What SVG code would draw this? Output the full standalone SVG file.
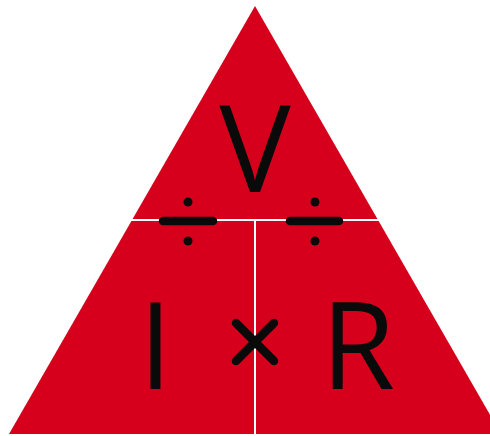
<svg xmlns="http://www.w3.org/2000/svg" width="490" height="436" viewBox="0 0 490 436">
<style>
.tri{fill:#d6001c}
.div{stroke:#fff;stroke-width:2;fill:none}
.sym{stroke:#0a0a0a;stroke-width:8.5;stroke-linecap:round;fill:none}
.dot{fill:#0a0a0a}
.lbl{font-family:"Open Sans","Noto Sans",sans-serif;font-size:120px;font-weight:500;fill:#0a0a0a;text-anchor:middle}
</style>
<rect width="490" height="436" fill="#fff"/>
<g id="triangle"><polygon class="tri" points="255,6 9,434 501,434"/></g>
<g id="connectors">
<line class="div" x1="120" y1="220" x2="390" y2="220"/>
<line class="div" x1="255" y1="220" x2="255" y2="436"/>
</g>
<g id="node-V"><text class="lbl" x="255" y="192">V</text></g>
<g id="node-I"><text class="lbl" x="155.5" y="389">I</text></g>
<g id="node-R"><text class="lbl" x="358" y="389">R</text></g>
<g id="op-div-left">
<line class="sym" x1="163" y1="221" x2="213" y2="221"/>
<circle class="dot" cx="188" cy="202" r="4.5"/>
<circle class="dot" cx="188" cy="241" r="4.5"/>
</g>
<g id="op-div-right">
<line class="sym" x1="290" y1="221" x2="339" y2="221"/>
<circle class="dot" cx="315" cy="202" r="4.5"/>
<circle class="dot" cx="315" cy="241" r="4.5"/>
</g>
<g id="op-times">
<line class="sym" x1="236" y1="323" x2="274" y2="361"/>
<line class="sym" x1="274" y1="323" x2="236" y2="361"/>
</g>
</svg>
